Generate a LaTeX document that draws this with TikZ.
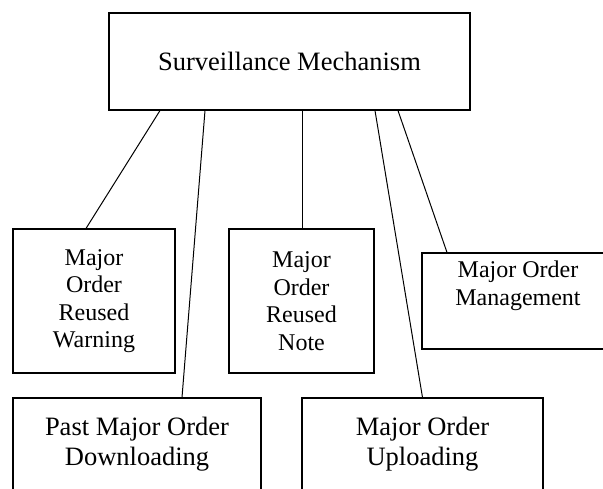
\documentclass[tikz,border=0pt]{standalone}
\usepackage{fontspec}
\setmainfont{Liberation Serif}
\begin{document}
\begin{tikzpicture}[x=1pt,y=-1pt,
  box/.style={draw,line width=1.1pt,rectangle,inner sep=0pt,align=center},
  big/.style={font=\fontsize{26.5}{30}\selectfont},
  small/.style={font=\fontsize{24}{27.5}\selectfont},
  link/.style={line width=1pt}]
\useasboundingbox (0,0) rectangle (603,488);
\node[box,big,minimum width=361pt,minimum height=97pt] (top) at (289.5,61.5) {Surveillance Mechanism};
\node[box,small,minimum width=162pt,minimum height=144pt] (warn) at (94,301) {Major\\Order\\Reused\\Warning};
\node[box,small,minimum width=145pt,minimum height=144pt] (note) at (301.5,301) {Major\\Order\\Reused\\Note};
\node[box,small,minimum width=192pt,minimum height=96pt] (mgmt) at (518,301) {Major Order\\Management\\[8pt]};
\node[box,big,minimum width=248pt,minimum height=92pt] (past) at (137,444) {Past Major Order\\Downloading};
\node[box,big,minimum width=241pt,minimum height=92pt] (upl) at (422.5,444) {Major Order\\Uploading};
\draw[link] ([xshift=-129.5pt]top.south) -- ([xshift=-8pt]warn.north);
\draw[link] ([xshift=-84.5pt]top.south) -- ([xshift=45pt]past.north);
\draw[link] ([xshift=12.5pt]top.south) -- ([xshift=0.5pt]note.north);
\draw[link] ([xshift=85.5pt]top.south) -- ([xshift=0pt]upl.north);
\draw[link] ([xshift=108.5pt]top.south) -- ([xshift=-71pt]mgmt.north);
\end{tikzpicture}
\end{document}
